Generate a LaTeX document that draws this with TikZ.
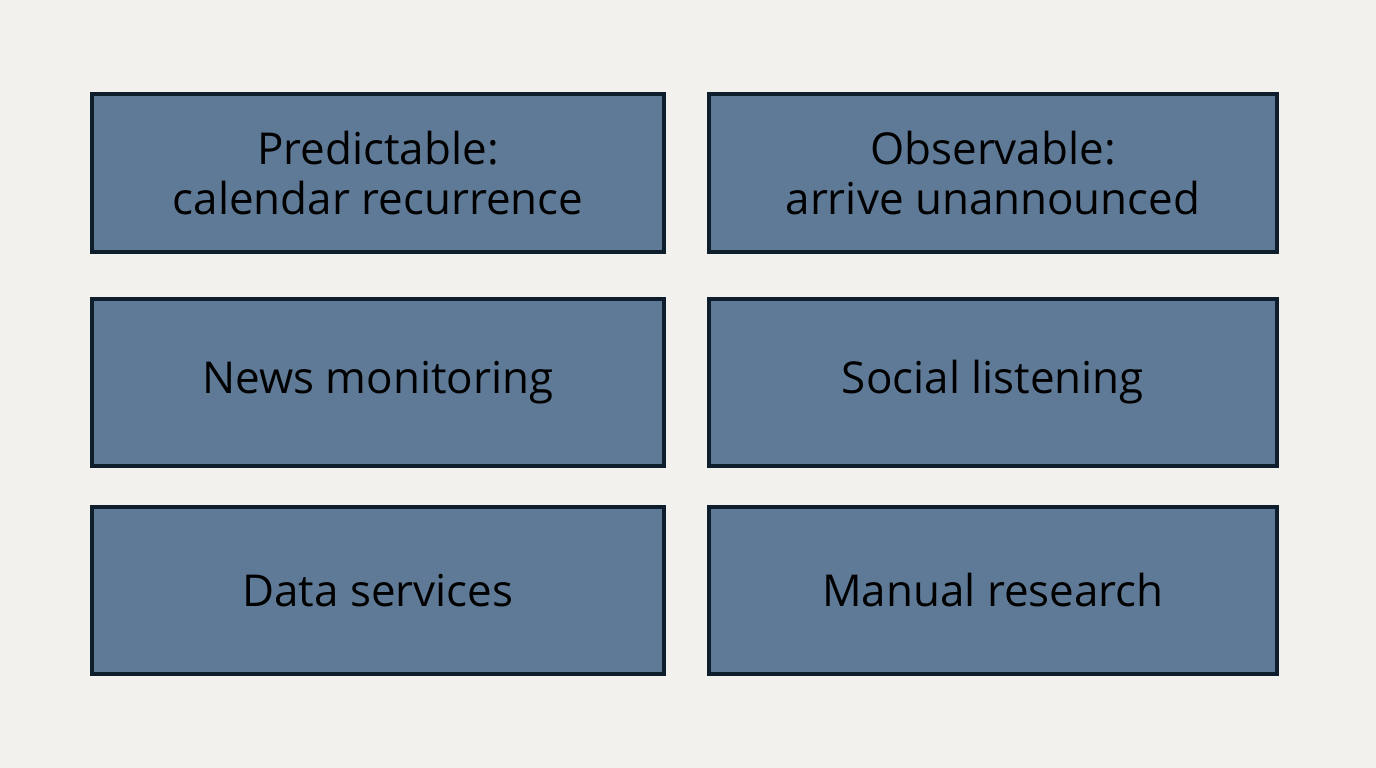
\documentclass[tikz,border=0pt]{standalone}
\usepackage{fontspec}
\setmainfont{Open Sans}
\usepackage{tikz}
\definecolor{boxfill}{HTML}{5F7A96}
\definecolor{boxline}{HTML}{0F1E2D}
\definecolor{paper}{HTML}{F3F1EE}
\begin{document}
\begin{tikzpicture}[box/.style={shape=rectangle,draw=boxline,fill=boxfill,line width=1.1pt,align=center,font=\fontsize{12.5}{14}\selectfont,text=black}]
\fill[paper] (0,0) rectangle (13.76,7.68);
\useasboundingbox (0,0) rectangle (13.76,7.68);
% top row
\path (3.78,5.95) node (predict) [box,minimum width=5.72cm,minimum height=1.58cm] {Predictable:\\calendar recurrence};
\path (9.93,5.95) node (observe) [box,minimum width=5.68cm,minimum height=1.58cm] {Observable:\\arrive unannounced};
% middle row
\path (3.78,3.855) node (news) [box,minimum width=5.72cm,minimum height=1.67cm] {News monitoring};
\path (9.93,3.855) node (social) [box,minimum width=5.68cm,minimum height=1.67cm] {Social listening};
% bottom row
\path (3.78,1.775) node (data) [box,minimum width=5.72cm,minimum height=1.67cm] {Data services};
\path (9.93,1.775) node (manual) [box,minimum width=5.68cm,minimum height=1.67cm] {Manual research};
\end{tikzpicture}
\end{document}
